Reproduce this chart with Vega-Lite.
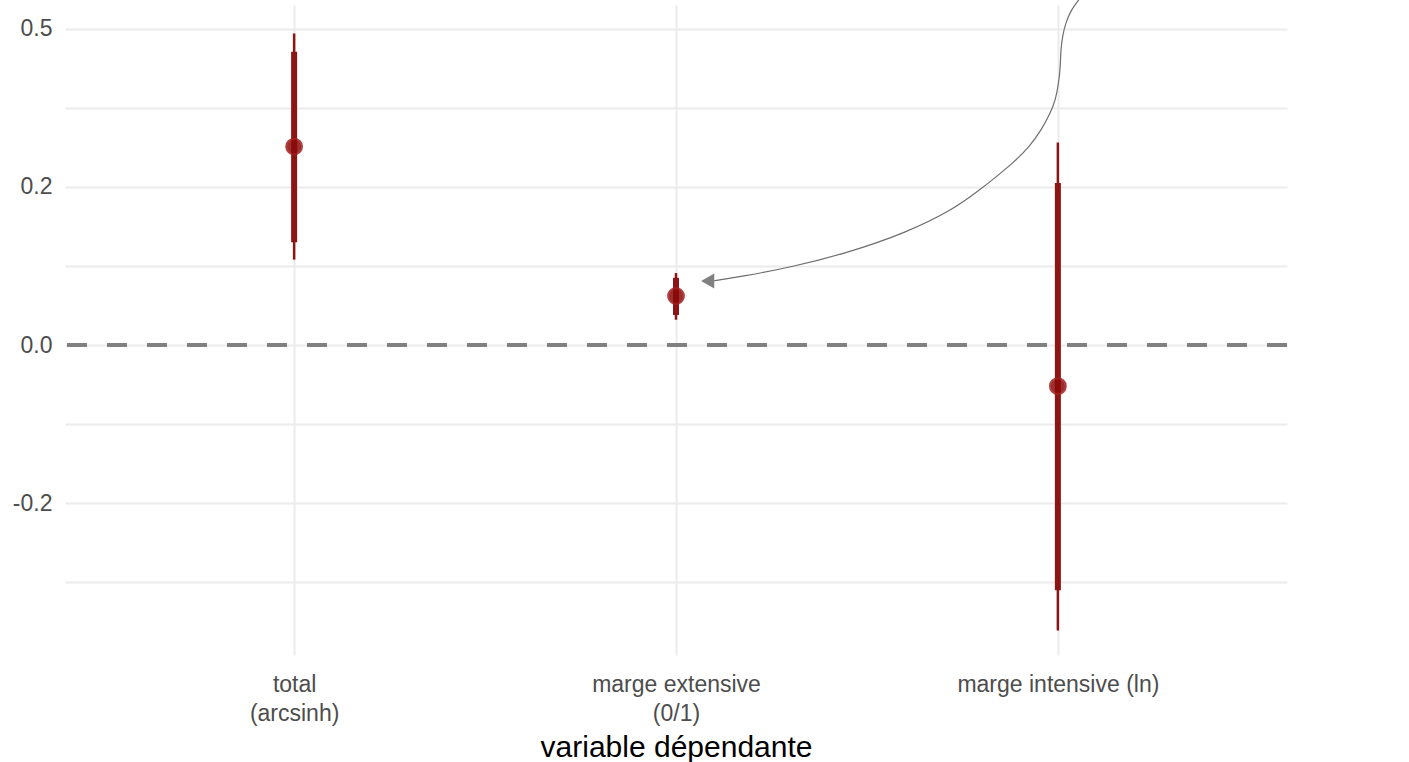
{
  "$schema": "https://vega.github.io/schema/vega-lite/v6.json",
  "width": 1222,
  "height": 650,
  "autosize": {"type": "none"},
  "padding": {"left": 65, "top": 5, "right": 122, "bottom": 107},
  "background": "white",
  "config": {
    "view": {"stroke": null},
    "font": "Liberation Sans",
    "axis": {"gridColor": "#EBEBEB", "gridWidth": 2, "domain": false, "ticks": false, "labelColor": "#4D4D4D", "labelFont": "Liberation Sans"}
  },
  "datasets": {
    "est": [
      {"var": "total\n(arcsinh)", "est": 0.251, "lo95": 0.108, "hi95": 0.394, "lo90": 0.130, "hi90": 0.371},
      {"var": "marge extensive\n(0/1)", "est": 0.062, "lo95": 0.032, "hi95": 0.091, "lo90": 0.038, "hi90": 0.085},
      {"var": "marge intensive (ln)", "est": -0.052, "lo95": -0.361, "hi95": 0.256, "lo90": -0.310, "hi90": 0.205}
    ],
    "curve": [
      {"u": 3.083, "v": 0.455},
      {"u": 3.054, "v": 0.436},
      {"u": 3.035, "v": 0.424},
      {"u": 3.020, "v": 0.407},
      {"u": 3.012, "v": 0.390},
      {"u": 3.0075, "v": 0.373},
      {"u": 3.0066, "v": 0.352},
      {"u": 3.002, "v": 0.331},
      {"u": 2.994, "v": 0.310},
      {"u": 2.980, "v": 0.293},
      {"u": 2.957, "v": 0.272},
      {"u": 2.926, "v": 0.251},
      {"u": 2.882, "v": 0.230},
      {"u": 2.839, "v": 0.213},
      {"u": 2.795, "v": 0.196},
      {"u": 2.725, "v": 0.171},
      {"u": 2.603, "v": 0.142},
      {"u": 2.446, "v": 0.116},
      {"u": 2.306, "v": 0.099},
      {"u": 2.167, "v": 0.086},
      {"u": 2.094, "v": 0.081}
    ],
    "head": [{"u": 2.083, "v": 0.081}]
  },
  "layer": [
    {
      "data": {"name": "est"},
      "layer": [
        {
          "mark": {"type": "rule", "color": "#8B1414", "strokeWidth": 2.5},
          "encoding": {
            "x": {"field": "var", "type": "nominal", "sort": null, "scale": {"type": "point", "padding": 0.6},
              "axis": {"title": "variable dépendante", "titleFont": "Liberation Sans", "titleFontSize": 30, "titleFontWeight": "normal", "titleColor": "black", "titlePadding": 7, "labelAngle": 0, "labelFontSize": 23, "labelLimit": 0, "labelPadding": 18, "labelLineHeight": 29, "labelExpr": "split(datum.label, '\\n')", "grid": true}},
            "y": {"field": "lo95", "type": "quantitative", "scale": {"domain": [-0.392, 0.430], "nice": false, "zero": false},
              "axis": {"title": null, "labelFontSize": 23, "values": [-0.3, -0.2, -0.1, 0, 0.1, 0.2, 0.3, 0.4], "labelPadding": 13, "labelExpr": "datum.value == 0.4 ? '0.5' : datum.value == 0.2 ? '0.2' : datum.value == 0 ? '0.0' : datum.value == -0.2 ? '-0.2' : ''"}},
            "y2": {"field": "hi95"}
          }
        },
        {
          "mark": {"type": "rule", "color": "#8B1414", "strokeWidth": 6},
          "encoding": {
            "x": {"field": "var", "type": "nominal", "sort": null},
            "y": {"field": "lo90", "type": "quantitative"},
            "y2": {"field": "hi90"}
          }
        },
        {
          "mark": {"type": "point", "filled": true, "shape": "circle", "size": 250, "color": "#8B0A0A", "opacity": 0.85, "stroke": "#A32020", "strokeWidth": 2},
          "encoding": {
            "x": {"field": "var", "type": "nominal", "sort": null},
            "y": {"field": "est", "type": "quantitative"}
          }
        }
      ]
    },
    {
      "data": {"values": [{"z": 0}]},
      "mark": {"type": "rule", "color": "#808080", "strokeWidth": 4, "strokeDash": [20, 20]},
      "encoding": {"y": {"field": "z", "type": "quantitative"}}
    },
    {
      "data": {"name": "curve"},
      "mark": {"type": "line", "color": "#6E6E6E", "strokeWidth": 1.2, "interpolate": "basis", "clip": false},
      "encoding": {
        "x": {"field": "u", "type": "quantitative", "scale": {"domain": [0.4, 3.6], "nice": false, "zero": false}, "axis": null},
        "y": {"field": "v", "type": "quantitative"}
      }
    },
    {
      "data": {"name": "head"},
      "mark": {"type": "point", "shape": "triangle-left", "filled": true, "color": "#808080", "opacity": 1, "size": 230},
      "encoding": {
        "x": {"field": "u", "type": "quantitative", "scale": {"domain": [0.4, 3.6], "nice": false, "zero": false}, "axis": null},
        "y": {"field": "v", "type": "quantitative"}
      }
    }
  ],
  "resolve": {"scale": {"x": "independent"}, "axis": {"x": "independent"}}
}
